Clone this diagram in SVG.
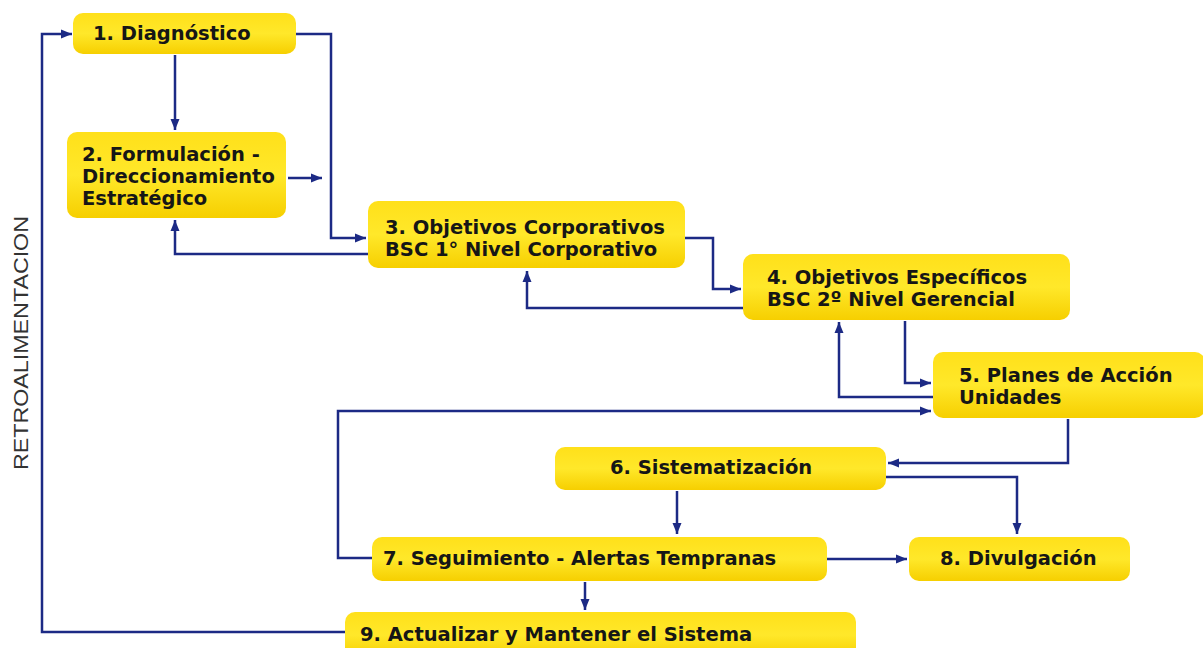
<svg xmlns="http://www.w3.org/2000/svg" width="1203" height="648" viewBox="0 0 1203 648">
<style>
.box{fill:url(#yg);}
.t{font-family:"DejaVu Sans",Verdana,sans-serif;font-weight:bold;font-size:19.5px;fill:#161616;}
.c{fill:none;stroke:#1c2a85;stroke-width:2.5;marker-end:url(#ah);}
</style>
<defs>
<linearGradient id="yg" x1="0" y1="0" x2="0" y2="1">
<stop offset="0" stop-color="#ffe01a"/>
<stop offset="0.5" stop-color="#ffe82a"/>
<stop offset="1" stop-color="#f6cf00"/>
</linearGradient>
<marker id="ah" markerUnits="userSpaceOnUse" markerWidth="12" markerHeight="12" viewBox="0 0 12 12" refX="11" refY="6" orient="auto">
<path d="M0,1.5 L11,6 L0,10.5 Z" fill="#1c2a85"/>
</marker>
</defs>
<rect width="1203" height="648" fill="#ffffff"/>
<text x="0" y="0" transform="translate(28,343) rotate(-90)" text-anchor="middle" font-family="Liberation Sans,Arial,sans-serif" font-size="21" fill="#333333" textLength="254" lengthAdjust="spacingAndGlyphs">RETROALIMENTACION</text>
<g id="connectors">
<path class="c" d="M345,632 H42 V34 H72"/>
<path class="c" d="M296,34 H331 V238 H366"/>
<path class="c" d="M175,55 V130"/>
<path class="c" d="M288,178 H322"/>
<path class="c" d="M368,254 H175 V220"/>
<path class="c" d="M685,238 H713 V289 H741"/>
<path class="c" d="M743,308 H527 V271"/>
<path class="c" d="M905,321 V383 H931"/>
<path class="c" d="M933,397 H839 V322"/>
<path class="c" d="M372,558 H338 V411 H931"/>
<path class="c" d="M1068,419 V463 H888"/>
<path class="c" d="M886,477 H1017 V534"/>
<path class="c" d="M677,491 V534"/>
<path class="c" d="M827,559 H907"/>
<path class="c" d="M585,582 V610"/>
</g>
<g id="n1"><rect class="box" x="73" y="13" width="223" height="41" rx="10"/><text class="t" x="93" y="40">1. Diagnóstico</text></g>
<g id="n2"><rect class="box" x="67" y="132" width="219" height="86" rx="10"/><text class="t" x="82" y="161">2. Formulación -</text><text class="t" x="82" y="183">Direccionamiento</text><text class="t" x="82" y="205">Estratégico</text></g>
<g id="n3"><rect class="box" x="368" y="201" width="317" height="67" rx="10"/><text class="t" x="385" y="234">3. Objetivos Corporativos</text><text class="t" x="385" y="256">BSC 1° Nivel Corporativo</text></g>
<g id="n4"><rect class="box" x="743" y="254" width="327" height="66" rx="10"/><text class="t" x="767" y="284">4. Objetivos Específicos</text><text class="t" x="767" y="306">BSC 2º Nivel Gerencial</text></g>
<g id="n5"><rect class="box" x="933" y="352" width="272" height="66" rx="10"/><text class="t" x="959" y="382">5. Planes de Acción</text><text class="t" x="959" y="404">Unidades</text></g>
<g id="n6"><rect class="box" x="555" y="447" width="331" height="43" rx="10"/><text class="t" x="610" y="474">6. Sistematización</text></g>
<g id="n7"><rect class="box" x="372" y="537" width="455" height="44" rx="10"/><text class="t" x="383" y="565">7. Seguimiento - Alertas Tempranas</text></g>
<g id="n8"><rect class="box" x="909" y="537" width="221" height="44" rx="10"/><text class="t" x="940" y="565">8. Divulgación</text></g>
<g id="n9"><rect class="box" x="345" y="612" width="511" height="46" rx="10"/><text class="t" x="360" y="641">9. Actualizar y Mantener el Sistema</text></g>
</svg>
